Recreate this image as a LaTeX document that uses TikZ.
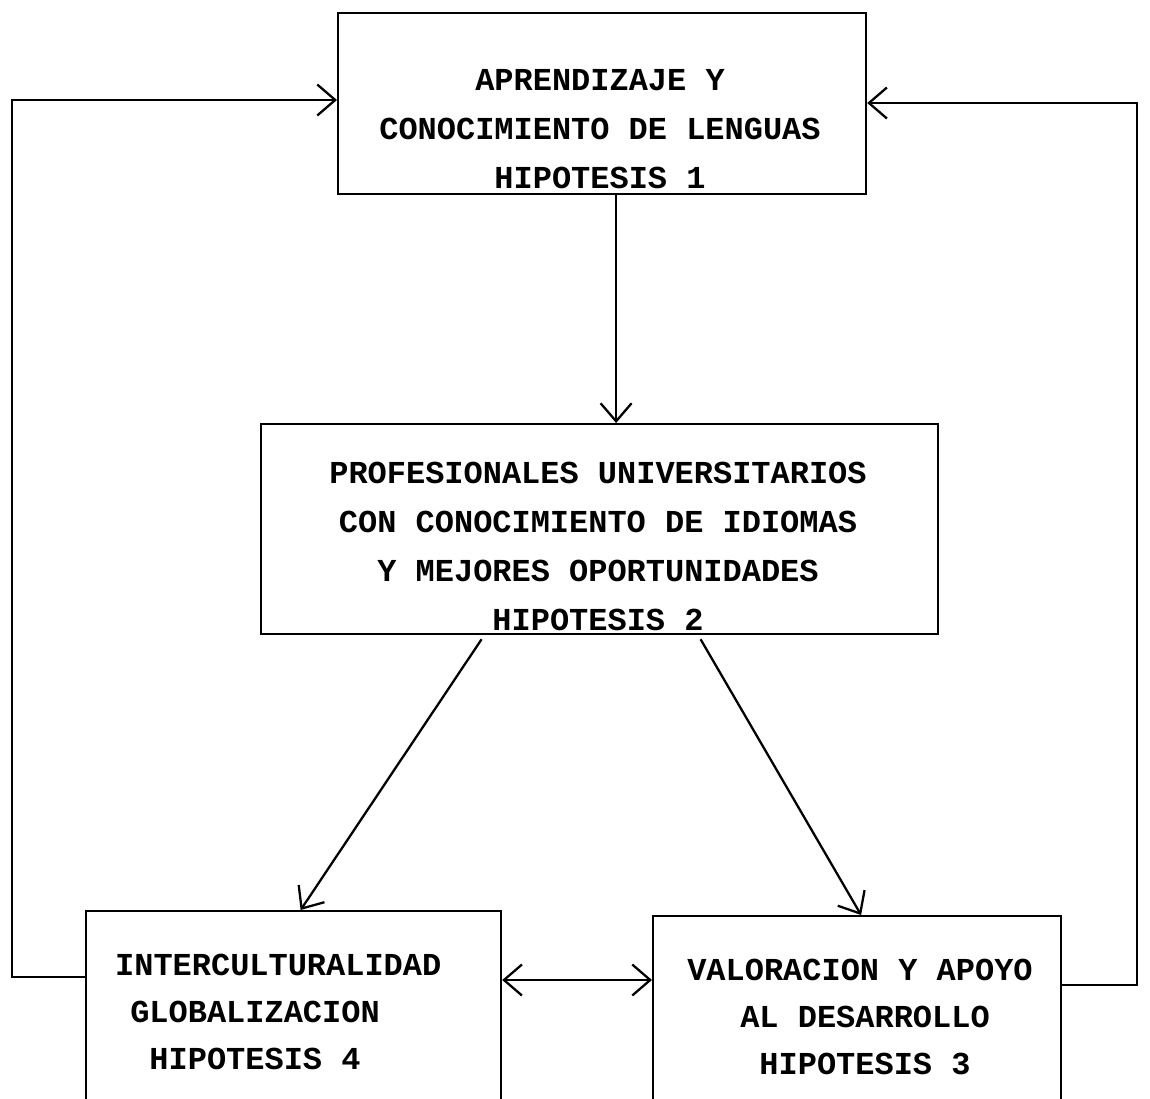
\documentclass[tikz,border=0pt]{standalone}
\usepackage{fontspec}
\newfontfamily\typewr{Liberation Mono}
\usepackage{tikz}
\usetikzlibrary{arrows.meta,calc}
\tikzset{arrow/.style={-{Straight Barb[length=0.36cm,width=0.62cm]}}}
\tikzset{dblarrow/.style={{Straight Barb[length=0.36cm,width=0.62cm]}-{Straight Barb[length=0.36cm,width=0.62cm]}}}
\tikzset{box/.style={draw, anchor=north west, inner sep=0pt}}
\tikzset{txt/.style={align=center, font=\typewr\bfseries\fontsize{18.2}{27.9}\selectfont}}

\begin{document}
\begin{tikzpicture}[x=0.02cm, y=-0.02cm, line width=1.3pt]
    \useasboundingbox (0,0) rectangle (1150,1099);
    \node[box, minimum width=10.56cm, minimum height=3.62cm] (H1) at (337, 12) {};
    \node[box, minimum width=13.54cm, minimum height=4.2cm] (H2) at (260, 423) {};
    \node[box, minimum width=8.3cm, minimum height=4cm] (H4) at (85, 910) {};
    \node[box, minimum width=8.16cm, minimum height=3.9cm] (H3) at (652, 915) {};
    \node[txt] (H1txt) at (600, 129) {APRENDIZAJE Y\\CONOCIMIENTO DE LENGUAS\\HIPOTESIS 1};
    \node[txt] (H2txt) at (598, 546) {PROFESIONALES UNIVERSITARIOS\\CON CONOCIMIENTO DE IDIOMAS\\Y MEJORES OPORTUNIDADES\\HIPOTESIS 2};
    \node[txt, font=\typewr\bfseries\fontsize{18.2}{27}\selectfont] (H4txt) at (255, 1012) {\hspace*{0.93cm}INTERCULTURALIDAD\\GLOBALIZACION\\HIPOTESIS 4};
    \node[txt, font=\typewr\bfseries\fontsize{18.2}{26.5}\selectfont] (H3txt) at (865, 1017) {VALORACION Y APOYO\hspace*{0.2cm}\\AL DESARROLLO\\HIPOTESIS 3};
    \draw[arrow] (H1.south) ++(14,0) coordinate (down) -- (down |- H2.north);
    \draw[arrow] ($(H2.south)+(-118,4)$) -- ($(H4.north)+(7,0)$);
    \draw[arrow] ($(H2.south)+(101,4)$) -- ($(H3.north)+(4,0)$);
    \draw[dblarrow] ($(H4.north east)+(0,70)$) -- ($(H3.north west)+(0,65)$);
    \draw[arrow] ($(H4.north west)+(0,67)$) -- ++(-73,0) |- ($(H1.north west)+(0,88)$);
    \draw[arrow] ($(H3.north east)+(0,70)$) -- ++(75,0) |- ($(H1.north east)+(0,91)$);
\end{tikzpicture}
\end{document}
